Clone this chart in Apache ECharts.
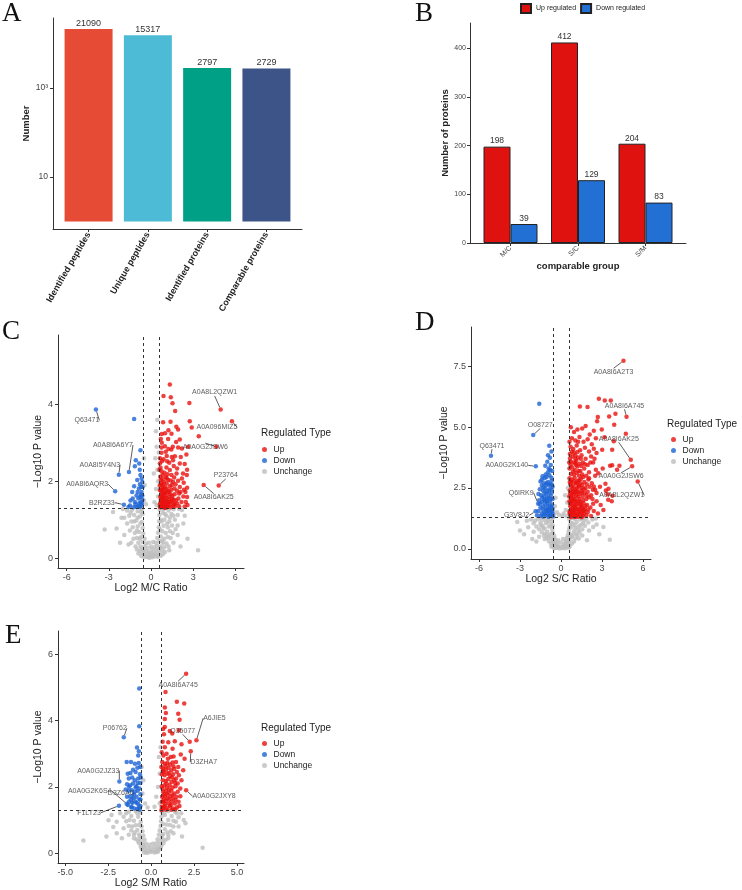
<!DOCTYPE html>
<html lang="en">
<head>
<meta charset="utf-8">
<title>Proteome overview</title>
<script src="https://cdn.jsdelivr.net/npm/echarts@6.0.0/dist/echarts.min.js"></script>
<style>
  html, body { margin: 0; padding: 0; background: #fff; }
  #main { width: 742px; height: 890px; }
</style>
</head>
<body>
<div id="main"></div>
<script>
// ---- panel A: identification counts ----
var countNames = ['Identified peptides', 'Unique peptides', 'Identified proteins', 'Comparable proteins'];
var countValues = [21090, 15317, 2797, 2729];

// ---- panel B: regulated proteins per comparison ----
var groups = ['M/C', 'S/C', 'S/M'];
var upCounts = [198, 412, 204];
var downCounts = [39, 129, 83];

// ---- panel C: M/C volcano (log2 ratio, -log10 p) ----
var mcUp = [
  [1.34,4.52],[0.89,4.22],[1.41,4.19],[2.73,4.04],[1.53,4.03],[1.72,3.83],[0.86,3.54],[1.39,3.55],[2.76,3.56],
  [2.90,3.40],[1.80,3.42],[1.24,3.33],[0.77,3.23],[1.00,3.25],[1.46,3.24],[1.93,3.35],[3.40,3.17],[0.77,3.00],
  [1.22,3.10],[1.79,3.02],[2.05,3.09],[0.75,2.88],[0.99,2.91],[1.24,2.84],[1.45,2.83],[1.93,2.88],[2.64,2.90],
  [0.75,2.74],[1.05,2.77],[1.48,2.63],[2.12,2.63],[2.52,2.70],[0.89,2.57],[1.15,2.52],[1.57,2.55],[2.05,2.46],
  [0.63,2.46],[2.57,2.30],[1.86,2.33],[1.10,2.36],[0.75,2.26],[1.34,2.29],[2.28,2.20],[0.82,2.16],[1.05,2.11],
  [1.46,2.16],[1.82,2.20],[2.20,2.07],[2.55,2.16],[0.70,2.03],[0.93,1.98],[1.22,2.03],[1.57,1.98],[1.93,2.01],
  [2.33,1.96],[0.75,1.90],[1.00,1.85],[1.34,1.87],[1.67,1.81],[2.05,1.85],[0.63,1.77],[2.57,1.83],[2.45,1.72],
  [2.00,1.68],[2.17,1.46],[2.48,1.46],[2.57,1.59],[1.86,1.42],
  [0.65,1.32],[0.72,1.36],[0.80,1.33],[0.88,1.38],[0.95,1.31],[1.05,1.35],[1.15,1.33],[1.28,1.37],[1.40,1.32],
  [1.55,1.36],[1.70,1.34],[2.00,1.35],[0.68,1.45],[0.78,1.48],[0.86,1.52],[0.96,1.44],[1.08,1.50],[1.20,1.46],
  [1.32,1.54],[1.45,1.48],[1.62,1.52],[1.78,1.50],[0.66,1.60],[0.74,1.65],[0.84,1.58],[0.92,1.68],[1.02,1.62],
  [1.14,1.70],[1.25,1.60],[1.38,1.66],[1.52,1.62],[1.68,1.66],[0.70,1.75],[0.80,1.80],[0.90,1.76],[1.10,1.80],
  [1.22,1.76],[1.45,1.78],[1.85,1.75],[0.62,1.88],[0.86,1.92],[1.12,1.94],[1.48,1.90],[1.75,1.92],[0.66,2.12],
  [1.18,2.18],[0.64,2.60],[0.70,3.10],[0.68,2.35],[1.62,2.40],[1.30,2.48],[1.12,2.66],[0.96,1.40],[1.25,1.42],
  [0.74,1.56],[1.60,1.42],[1.95,1.55],[2.30,1.60],[2.60,1.38],[2.40,1.34],
  [0.63,1.40],[0.70,1.52],[0.76,1.68],[0.82,1.42],[0.92,1.58],[1.02,1.48],[1.12,1.56],[1.18,1.38],[1.35,1.46],
  [1.50,1.55],[0.70,1.95],[0.82,2.05],[0.96,2.22],[1.12,2.08],[1.40,2.02],[1.65,2.10],[0.65,1.35],[1.00,1.70],
  [1.30,1.72],[1.68,1.40],[2.10,1.72],[2.35,1.78],[0.88,1.82],[0.60,2.30],[1.55,2.90],[2.20,2.85],[2.40,2.45],
  [1.05,1.31],[0.78,2.52],[1.70,2.65]
];
var mcDown = [
  [-1.20,3.62],[-0.75,2.81],[-1.08,2.55],[-0.84,2.46],[-1.15,2.39],[-0.80,2.30],[-0.75,2.16],[-0.67,2.07],
  [-0.98,2.03],[-0.79,1.92],[-1.20,1.87],[-0.86,1.81],[-1.34,1.72],[-0.67,1.72],[-1.03,1.63],[-0.75,1.59],
  [-1.46,1.50],[-1.15,1.46],[-0.84,1.43],[-0.67,1.37],[-1.50,1.37],[-1.03,1.33],[-0.79,1.33],[-0.62,1.52],
  [-0.70,1.85],[-0.90,1.55],[-1.25,1.32],[-0.65,1.42],[-0.72,1.65],[-1.60,1.33],[-0.95,1.72],[-0.62,1.98],
  [-1.10,1.40],[-0.62,1.62],[-0.72,1.45],[-0.88,1.35],[-0.60,1.85],[-1.30,1.55]
];
var mcFlat = [
  [-0.7,0.05],[-0.5,0.02],[-0.3,0.03],[-0.1,0.01],[0.1,0.02],[0.3,0.04],[0.5,0.03],[0.7,0.06],[-0.6,0.12],
  [-0.4,0.10],[-0.2,0.08],[0.0,0.06],[0.2,0.10],[0.4,0.12],[0.6,0.14],[-0.8,0.18],[-0.55,0.20],[-0.35,0.18],
  [-0.15,0.15],[0.15,0.16],[0.35,0.20],[0.55,0.22],[0.8,0.20],[-0.75,0.30],[-0.45,0.30],[-0.25,0.26],[0.25,0.28],
  [0.45,0.32],[0.7,0.30],[0.95,0.28],[-0.9,0.40],[-0.6,0.42],[-0.35,0.38],[0.35,0.40],[0.6,0.44],[0.85,0.40],
  [1.1,0.38],[-1.0,0.52],[-0.7,0.55],[-0.45,0.50],[0.45,0.52],[0.7,0.56],[0.95,0.50],[1.2,0.55],[-1.15,0.65],
  [-0.85,0.68],[-0.55,0.64],[0.5,0.66],[0.8,0.70],[1.05,0.65],[1.35,0.70],[-1.3,0.80],[-0.95,0.82],[-0.6,0.78],
  [0.55,0.80],[0.9,0.84],[1.2,0.80],[1.5,0.85],[-1.4,0.95],[-1.05,0.98],[-0.65,0.94],[0.58,0.96],[0.95,1.00],
  [1.3,0.95],[1.7,1.00],[-1.55,1.10],[-1.2,1.12],[-0.8,1.08],[-0.6,1.15],[0.6,1.12],[0.85,1.18],[1.1,1.10],
  [1.45,1.15],[1.9,1.12],[-1.7,1.24],[-1.35,1.26],[-0.95,1.22],[-0.65,1.27],[0.62,1.26],[0.9,1.28],[1.25,1.24],
  [1.6,1.27],[2.2,1.25],[-3.3,0.74],[-2.45,0.77],[-2.1,1.05],[-2.7,1.20],[-1.9,0.60],[-2.2,0.40],[1.9,0.60],
  [2.3,0.90],[2.6,0.50],[3.35,0.20],[2.1,0.30],[-1.6,0.35],[1.6,0.40],[0.45,3.60],[0.35,3.30],[0.4,2.90],
  [0.3,2.60],[0.45,2.30],[0.5,2.00],[0.35,1.80],[0.5,1.60],[0.25,1.45],[0.4,1.38],[-0.5,2.60],[-0.45,1.90],
  [-0.5,1.50],[-0.35,1.40],[0.2,2.20],[0.55,2.75],[-0.15,0.40],[0.15,0.42],[0.0,0.30],[-0.05,0.12],[0.05,0.22],
  [-0.55,0.08],[-0.2,0.02],[0.45,0.07],[0.85,0.10],[-0.9,0.12],[-0.65,0.24],[0.65,0.26],[1.0,0.16],[-1.1,0.30],
  [1.25,0.30],[-0.8,0.50],[0.8,0.45],[-1.25,0.50],[1.4,0.52],[-1.0,0.72],[0.65,0.75],[1.55,0.65],[-1.5,0.72],
  [-0.75,0.90],[0.75,0.95],[-1.2,0.95],[1.15,0.90],[1.9,0.85],[-1.7,0.90],[-0.95,1.05],[1.0,1.15],[1.6,1.10],
  [-1.45,1.18],[0.7,1.00],[-0.7,1.20],[1.35,1.05],[2.0,1.28],[-2.0,1.28],[-1.9,1.05],[2.4,1.10],[1.75,0.75],
  [-1.4,0.40],[1.3,0.20],[-1.0,0.22],[0.15,0.06]
];
var mcTags = [
  ['A0A8L2QZW1', 4.96, 3.87], ['A0A096MIZ5', 5.76, 3.56], ['A0A0G2JSW6', 4.65, 2.90], ['P23764', 4.82, 1.89],
  ['A0A8I6AK25', 3.75, 1.90], ['Q63471', -3.92, 3.87], ['A0A8I6A6Y7', -1.57, 2.24], ['A0A8I5Y4N3', -2.29, 2.17],
  ['A0A8I6AQR3', -2.55, 1.74], ['B2RZ33', -1.93, 1.39]
];
var mcTagShift = [[-6,-17],[-15,6],[-11,0],[7,-10],[10,12],[-9,11],[-16,-27],[-19,-10],[-28,-7],[-22,-2]];

// ---- panel D: S/C volcano ----
var scUp = [
  [1.38,5.85],[1.94,5.83],[2.77,6.17],[3.20,6.10],[3.64,6.10],[2.69,5.42],[2.64,5.24],[3.52,5.44],[3.98,5.55],
  [2.98,4.90],[3.89,5.10],[4.74,4.73],[3.18,4.59],[3.86,4.42],[3.01,4.07],[0.72,5.00],[0.95,4.80],[1.20,4.90],
  [1.55,4.95],[1.80,5.05],[2.10,4.70],[2.40,4.85],[0.80,4.55],[1.05,4.45],[1.35,4.60],[1.65,4.40],[1.95,4.50],
  [2.25,4.30],[2.55,4.55],[2.40,4.11],[2.60,3.94],[3.74,4.07],[0.70,4.20],[0.90,4.10],[1.15,4.25],[1.40,4.05],
  [1.75,4.15],[2.05,4.00],[3.74,3.43],[4.10,3.25],[2.55,3.25],[2.72,3.11],[4.27,3.41],[3.59,3.41],[0.65,3.90],
  [0.85,3.80],[1.05,3.85],[1.25,3.75],[1.50,3.85],[1.80,3.70],[2.20,3.80],[0.70,3.60],[0.92,3.55],[1.12,3.62],
  [1.35,3.50],[1.60,3.55],[1.95,3.45],[2.35,3.55],[0.62,3.30],[0.80,3.35],[1.00,3.25],[1.20,3.38],[1.42,3.20],
  [1.70,3.30],[2.05,3.15],[0.72,3.08],[0.95,3.05],[1.15,3.12],[1.32,3.00],[1.55,3.05],[1.85,3.00],[2.40,2.56],
  [2.50,2.43],[3.28,2.40],[3.47,2.47],[3.40,2.24],[3.76,2.18],[3.25,2.67],[2.33,2.43],[2.60,2.29],[3.45,2.02],
  [3.71,1.95],[0.62,2.90],[0.80,2.85],[1.00,2.92],[1.22,2.80],[1.45,2.88],[1.70,2.75],[2.00,2.85],[2.25,2.70],
  [0.68,2.65],[0.88,2.60],[1.08,2.68],[1.30,2.55],[1.55,2.62],[1.80,2.50],[2.10,2.55],[0.64,2.40],[0.84,2.35],
  [1.02,2.45],[1.25,2.32],[1.48,2.40],[1.72,2.28],[1.95,2.35],[2.20,2.20],[0.70,2.15],[0.92,2.10],[1.12,2.20],
  [1.35,2.05],[1.58,2.15],[1.85,2.05],[2.05,2.12],[0.62,1.95],[0.80,1.90],[1.00,1.98],[1.20,1.85],[1.42,1.92],
  [1.65,1.88],[1.90,1.80],[0.68,1.75],[0.88,1.70],[1.08,1.78],[1.28,1.65],[1.50,1.72],[1.75,1.62],[2.15,1.70],
  [0.64,1.55],[0.82,1.50],[1.02,1.58],[1.22,1.45],[1.45,1.52],[1.68,1.45],[1.95,1.50],[2.40,1.55],[0.70,1.35],
  [0.90,1.38],[1.12,1.33],[1.35,1.40],[1.60,1.35],[1.85,1.38],[2.20,1.35],[2.70,1.45],[3.10,1.60],[2.90,1.80],
  [2.60,1.95],[0.75,2.00],[0.95,2.25],[1.15,2.50],[0.75,2.75],[1.10,3.45],[0.66,1.42],[0.98,1.46],[1.18,1.62],
  [1.38,1.80],[1.62,2.00],[0.78,1.62],[1.05,2.05],[1.25,2.15],[0.85,2.48],[1.40,2.70],[1.62,2.95],[1.05,3.70],
  [0.80,4.00],
  [0.62,1.48],[0.74,1.44],[0.86,1.60],[0.94,1.52],[1.06,1.68],[1.16,1.40],[1.30,1.52],[1.40,1.62],[1.52,1.44],
  [1.62,1.58],[0.66,1.85],[0.74,1.95],[0.90,1.82],[0.98,1.76],[1.10,1.92],[1.28,1.95],[1.48,1.82],[1.58,1.70],
  [1.78,1.75],[2.00,1.62],[0.66,2.28],[0.78,2.22],[0.90,2.35],[1.06,2.32],[1.18,2.38],[1.38,2.25],[1.55,2.30],
  [1.68,2.45],[1.88,2.20],[2.30,2.05],[0.64,2.75],[0.76,2.55],[0.96,2.78],[1.14,2.72],[1.34,2.82],[1.52,2.50],
  [1.88,2.65],[0.70,3.45],[0.88,3.18],[1.05,3.52],[1.28,3.20],[1.48,3.40],[1.75,3.48],[0.66,3.72],[0.95,3.95],
  [1.20,3.98],[1.45,3.70],[0.62,4.40],[1.25,4.40],[2.15,3.55],[0.72,1.30],[1.00,1.31],[1.25,1.32],[1.50,1.30],
  [1.70,1.55],[0.84,2.05],[1.30,2.60],[0.60,2.15],[0.60,3.55],[2.50,3.00],[2.85,2.55],[3.05,3.30],[2.45,3.70],
  [2.05,2.90],[2.35,1.85]
];
var scDown = [
  [-1.59,5.96],[-0.86,4.24],[-0.81,3.74],[-1.00,3.58],[-1.15,3.41],[-0.90,3.30],[-0.75,3.45],[-0.65,3.20],
  [-1.35,2.98],[-1.50,2.77],[-1.20,2.90],[-1.05,2.95],[-0.85,3.02],[-0.70,2.92],[-1.40,2.60],[-1.25,2.70],
  [-1.10,2.62],[-0.95,2.75],[-0.78,2.65],[-0.62,2.55],[-1.55,2.45],[-1.32,2.40],[-1.15,2.48],[-1.00,2.38],
  [-0.85,2.45],[-0.68,2.30],[-1.45,2.20],[-1.25,2.15],[-1.08,2.25],[-0.92,2.12],[-0.75,2.18],[-0.62,2.05],
  [-1.60,2.00],[-1.38,1.92],[-1.18,1.98],[-1.00,1.88],[-0.82,1.95],[-0.66,1.82],[-1.50,1.70],[-1.30,1.75],
  [-1.12,1.65],[-0.95,1.72],[-0.78,1.60],[-0.63,1.55],[-1.40,1.45],[-1.22,1.50],[-1.05,1.40],[-0.88,1.48],
  [-0.72,1.38],[-0.60,1.34],[-1.65,1.55],[-1.75,1.38],[-1.28,1.33],[-0.98,1.55],[-0.80,1.35],[-1.15,1.82],
  [-0.70,2.45],[-0.88,2.62],[-1.20,2.30],[-1.02,2.08],
  [-0.62,1.45],[-0.70,1.72],[-0.82,1.78],[-0.92,1.32],[-1.08,1.58],[-1.18,1.42],[-1.35,1.62],[-1.48,1.35],
  [-0.66,2.62],[-0.74,2.05],[-0.90,2.30],[-1.05,2.70],[-1.28,2.52],[-1.40,2.85],[-0.95,3.15],[-1.12,3.05],
  [-0.62,1.65],[-0.78,1.48],[-1.55,1.85],[-1.65,2.25],[-0.86,1.62],[-1.02,1.95],[-1.22,2.02],[-1.38,2.10],
  [-0.68,2.80],[-0.80,3.25],[-0.95,3.85],[-0.70,4.00]
];
var scFlat = [
  [-0.5,0.02],[-0.3,0.04],[-0.1,0.01],[0.1,0.03],[0.3,0.02],[0.5,0.05],[-0.6,0.12],[-0.4,0.10],[-0.2,0.08],
  [0.0,0.07],[0.2,0.10],[0.4,0.12],[0.65,0.14],[-0.75,0.22],[-0.5,0.20],[-0.25,0.20],[0.25,0.22],[0.5,0.24],
  [0.8,0.22],[-0.9,0.32],[-0.6,0.32],[-0.35,0.30],[0.35,0.32],[0.62,0.34],[0.95,0.30],[-1.05,0.44],[-0.75,0.45],
  [-0.45,0.42],[0.42,0.44],[0.72,0.46],[1.05,0.42],[-1.25,0.55],[-0.9,0.56],[-0.5,0.55],[0.5,0.56],[0.85,0.58],
  [1.2,0.55],[-1.4,0.68],[-1.0,0.70],[-0.6,0.66],[0.55,0.70],[0.95,0.72],[1.35,0.68],[-1.6,0.80],[-1.2,0.82],
  [-0.65,0.80],[0.6,0.82],[1.05,0.85],[1.55,0.80],[-1.8,0.92],[-1.35,0.95],[-0.9,0.92],[-0.6,0.96],[0.65,0.95],
  [1.0,0.98],[1.3,0.92],[1.75,0.95],[-2.0,1.05],[-1.5,1.08],[-1.1,1.06],[-0.7,1.10],[0.7,1.08],[1.15,1.10],
  [1.6,1.05],[2.0,1.08],[-2.2,1.20],[-1.7,1.22],[-1.25,1.18],[-0.8,1.24],[-0.6,1.27],[0.6,1.22],[0.9,1.26],
  [1.4,1.20],[1.85,1.24],[2.3,1.20],[-2.4,0.89],[-2.7,0.60],[-3.2,1.10],[-2.1,0.40],[2.35,0.90],[2.8,0.60],
  [3.57,0.37],[2.6,1.00],[-1.8,0.30],[1.9,0.35],[-3.0,0.75],[3.1,0.90],[0.2,1.45],[0.35,1.60],[0.45,1.90],
  [0.3,2.20],[0.5,2.50],[-0.3,1.50],[-0.45,1.75],[0.1,1.35],[-0.15,1.40],[0.4,1.35],[-0.5,1.40],[-0.4,2.10],
  [-0.2,0.35],[0.15,0.40],[0.0,0.25],
  [-0.45,0.06],[-0.25,0.05],[0.15,0.05],[0.35,0.08],[0.6,0.06],[-0.7,0.08],[-0.55,0.28],[0.45,0.28],[0.3,0.16],
  [-0.35,0.15],[-0.95,0.50],[-1.15,0.62],[0.8,0.50],[1.1,0.62],[-1.3,0.85],[1.25,0.78],[-1.5,0.98],[1.45,0.98],
  [-1.9,1.15],[1.7,1.15],[-0.7,0.62],[0.65,0.60],[-0.75,0.95],[0.75,0.90],[-1.0,1.20],[1.05,1.22],[-1.45,1.25],
  [1.6,1.27],[-2.5,1.15],[2.55,1.25],[-2.0,0.70],[2.05,0.75],[-1.6,0.50],[1.55,0.55],[0.85,1.05],[-0.95,1.10],
  [-1.2,0.40],[1.3,0.42],[-0.55,0.42],[0.55,0.45]
];
var scTags = [
  ['A0A8I6A2T3', 4.57, 7.73], ['A0A8I6A745', 4.79, 5.43], ['A0A8I6AK25', 5.10, 3.66], ['A0A0G2JSW6', 5.20, 3.39],
  ['A0A8L2QZW1', 5.61, 2.77], ['O08727', -2.03, 4.68], ['Q63471', -5.12, 3.83], ['A0A0G2K140', -1.84, 3.39],
  ['Q6IRK9', -1.67, 1.85], ['G3V8J2', -1.86, 1.54]
];
var scTagShift = [[-10,11],[-2,-11],[-12,-21],[-11,10],[-16,14],[7,-10],[1,-10],[-29,-1],[-17,-11],[-19,4]];

// ---- panel E: S/M volcano ----
var smUp = [
  [0.84,4.87],[1.50,4.57],[1.93,4.52],[0.80,4.40],[0.86,4.23],[1.58,4.21],[0.80,4.05],[1.66,4.03],[0.80,3.81],
  [1.09,3.69],[1.23,3.61],[1.62,3.71],[0.75,3.59],[0.67,3.36],[1.38,3.38],[1.77,3.29],[0.80,3.20],[1.31,2.92],
  [1.73,2.98],[0.62,3.05],[1.58,2.60],[1.87,2.50],[1.77,2.20],[1.95,2.85],[1.45,2.75],[0.65,2.75],[0.80,2.70],
  [0.95,2.72],[1.10,2.68],[1.25,2.74],[0.70,2.55],[0.88,2.52],[1.02,2.58],[1.18,2.50],[1.35,2.55],[1.50,2.45],
  [0.62,2.38],[0.78,2.35],[0.95,2.40],[1.12,2.32],[1.28,2.38],[1.45,2.25],[1.62,2.35],[0.68,2.20],[0.85,2.18],
  [1.00,2.24],[1.18,2.15],[1.35,2.20],[1.55,2.10],[0.62,2.02],[0.78,2.05],[0.92,1.98],[1.08,2.05],[1.25,1.98],
  [1.42,2.02],[1.70,1.95],[0.70,1.85],[0.86,1.88],[1.02,1.82],[1.18,1.88],[1.35,1.80],[1.55,1.85],[0.64,1.70],
  [0.80,1.72],[0.96,1.66],[1.12,1.72],[1.28,1.65],[1.48,1.70],[0.70,1.55],[0.86,1.58],[1.02,1.50],[1.20,1.56],
  [1.38,1.50],[1.60,1.55],[0.62,1.40],[0.78,1.42],[0.94,1.36],[1.10,1.42],[1.28,1.35],[1.50,1.38],[0.68,1.32],
  [0.88,1.31],[1.18,1.31],[0.72,2.95],[0.90,3.00],[0.74,2.45],[1.15,2.90],
  [0.62,1.55],[0.74,1.62],[0.82,1.48],[0.92,1.78],[1.05,1.62],[1.15,1.45],[1.25,1.75],[1.42,1.60],[0.66,1.95],
  [0.76,1.78],[0.90,2.10],[1.05,1.92],[1.22,2.28],[1.40,2.12],[0.68,2.48],[0.85,2.62],[1.05,2.42],[1.30,2.62],
  [0.60,1.30],[0.72,1.38],[1.40,1.32],[1.65,1.42],[1.70,1.72],[0.98,2.85],[1.25,3.15],[0.60,2.60],[0.70,3.75],
  [1.00,3.35]
];
var smDown = [
  [-0.69,4.97],[-0.69,3.83],[-0.82,3.19],[-0.71,3.08],[-0.75,2.95],[-1.42,2.75],[-1.17,2.75],[-0.94,2.70],
  [-0.63,2.60],[-0.80,2.58],[-1.05,2.52],[-1.36,2.40],[-1.20,2.42],[-0.90,2.45],[-0.65,2.38],[-1.30,2.25],
  [-1.10,2.28],[-0.95,2.20],[-0.75,2.25],[-0.62,2.12],[-1.40,2.08],[-1.22,2.05],[-1.05,2.10],[-0.85,2.02],
  [-0.68,1.95],[-1.30,1.88],[-1.12,1.90],[-0.95,1.85],[-0.78,1.88],[-0.62,1.78],[-1.40,1.70],[-1.20,1.72],
  [-1.02,1.66],[-0.85,1.70],[-0.68,1.62],[-1.28,1.55],[-1.10,1.52],[-0.92,1.56],[-0.75,1.48],[-0.62,1.42],
  [-1.15,1.38],[-0.98,1.35],[-0.80,1.33],[-0.66,1.31],
  [-0.62,1.62],[-0.72,1.38],[-0.86,1.52],[-1.00,1.78],[-1.18,1.62],[-0.78,2.12],[-0.90,1.98],[-1.28,2.00],
  [-0.60,2.28],[-0.72,2.72],[-1.35,1.45],[-1.48,1.92]
];
var smFlat = [
  [-0.4,0.02],[-0.2,0.01],[0.0,0.03],[0.2,0.02],[0.4,0.04],[-0.5,0.10],[-0.3,0.08],[-0.1,0.06],[0.1,0.08],
  [0.3,0.10],[0.5,0.12],[-0.6,0.20],[-0.4,0.18],[-0.2,0.16],[0.2,0.18],[0.4,0.20],[0.6,0.22],[-0.7,0.30],
  [-0.5,0.30],[-0.3,0.28],[0.3,0.30],[0.5,0.32],[0.72,0.30],[-0.85,0.42],[-0.6,0.42],[-0.38,0.40],[0.38,0.42],
  [0.6,0.44],[0.85,0.40],[-1.0,0.55],[-0.7,0.56],[-0.45,0.52],[0.45,0.55],[0.7,0.58],[1.0,0.54],[-1.15,0.68],
  [-0.8,0.70],[-0.5,0.66],[0.5,0.68],[0.8,0.72],[1.15,0.66],[-1.3,0.82],[-0.9,0.84],[-0.55,0.80],[0.55,0.82],
  [0.9,0.86],[1.3,0.80],[-1.45,0.96],[-1.0,0.98],[-0.6,0.95],[0.58,0.96],[1.0,1.00],[1.45,0.95],[-1.6,1.10],
  [-1.15,1.12],[-0.75,1.10],[0.6,1.10],[0.8,1.15],[1.2,1.12],[1.6,1.08],[-1.3,1.25],[-0.9,1.27],[-0.62,1.22],
  [0.62,1.25],[1.0,1.27],[1.4,1.24],[-3.94,0.38],[3.0,0.16],[-2.48,0.99],[-2.2,0.79],[-2.0,0.60],[-1.8,1.20],
  [-2.3,1.15],[-1.7,0.45],[1.8,0.50],[2.0,0.90],[1.75,1.20],[-2.6,0.50],[0.45,2.90],[0.5,2.40],[0.4,2.00],
  [0.3,1.70],[0.5,1.50],[-0.45,2.20],[-0.5,1.80],[-0.35,1.50],[0.2,1.40],[-0.2,1.38],[0.55,3.20],[-0.55,2.60],
  [0.0,0.15],[-0.1,0.25],[0.1,0.28],
  [-0.3,0.02],[0.3,0.03],[-0.55,0.14],[0.55,0.16],[-0.75,0.36],[0.7,0.38],[-0.95,0.62],[0.95,0.62],[-1.1,0.80],
  [1.1,0.85],[-1.25,1.00],[1.3,0.98],[-1.45,1.20],[1.5,1.20],[-0.8,1.20],[0.75,1.20],[-1.0,0.45],[1.0,0.45],
  [-0.65,0.50],[0.65,0.52],[-0.7,0.85],[0.7,0.88],[-1.6,0.75],[1.6,0.80],[-2.0,0.95],[1.9,1.00],[-1.3,0.55],
  [1.3,0.60],[0.4,0.10],[-0.45,0.22]
];
var smTags = [
  ['A0A8I6A745', 2.04, 5.42], ['A6JIE5', 2.64, 3.41], ['O35077', 2.25, 3.36], ['D3ZHA7', 2.31, 3.08],
  ['A0A0G2JXY8', 2.04, 1.90], ['P06762', -1.59, 3.50], ['A0A0G2JZ33', -1.85, 2.16], ['A0A0G2K6S4', -1.42, 1.49],
  ['D3Z6A0', -1.13, 1.39], ['F1LT23', -1.87, 1.43]
];
var smTagShift = [[-8,11],[18,-22],[-7,-11],[13,11],[28,6],[-9,-9],[-21,-11],[-37,-13],[-11,-14],[-30,7]];

// cut-offs: 1.5 fold, p = 0.05
var fcCut = Math.log2(1.5);
var pCut = -Math.log10(0.05);

var font = 'Liberation Sans';
var ink = '#222';
var barColors = ['#E64B35', '#4DBBD5', '#00A087', '#3C5488'];
var upColor = '#E8120F', downColor = '#1D64D4', flatColor = '#BEBEBE';

function axisLine() { return { color: '#333', width: 1 }; }

function valueAxis(o) {
  return {
    type: 'value', gridIndex: o.grid, min: o.min, max: o.max,
    name: o.name || '', nameLocation: 'middle', nameGap: o.nameGap || 0,
    nameTextStyle: { fontSize: o.nameSize || 10.5, fontWeight: o.nameWeight || 'normal', color: ink, fontFamily: font },
    axisLine: { show: true, onZero: false, lineStyle: axisLine() },
    axisTick: { show: true, length: 3, customValues: o.ticks, lineStyle: axisLine() },
    axisLabel: {
      customValues: o.ticks, formatter: o.fmt, fontSize: o.labelSize || 9, color: o.labelColor || '#444',
      margin: o.margin || 5, rotate: o.rotate || 0, fontWeight: o.labelWeight || 'normal', fontFamily: font
    },
    splitLine: { show: false }
  };
}

function dots(name, pts, color, g) {
  return {
    type: 'scatter', name: name, xAxisIndex: g, yAxisIndex: g, data: pts,
    symbolSize: 4.5, itemStyle: { color: color }, silent: true
  };
}

function tagged(tags, shift, g) {
  return {
    type: 'scatter', name: 'tags' + g, xAxisIndex: g, yAxisIndex: g, symbolSize: 4.5, silent: true,
    data: tags.map(function (t) {
      return { name: t[0], value: [t[1], t[2]], itemStyle: { color: t[1] > 0 ? upColor : downColor } };
    }),
    label: { show: true, position: 'inside', formatter: '{b}', fontSize: 7, color: '#333', fontFamily: font },
    labelLayout: function (p) { var s = shift[p.dataIndex]; return { dx: s[0], dy: s[1] }; },
    labelLine: { show: true, lineStyle: { color: '#333', width: 0.8 } },
    markLine: {
      silent: true, symbol: ['none', 'none'], label: { show: false },
      lineStyle: { type: [3, 3], color: '#333', width: 1 },
      data: [{ xAxis: -fcCut }, { xAxis: fcCut }, { yAxis: pCut }]
    }
  };
}

function volcanoLegend(left, top) {
  return {
    data: ['Up', 'Down', 'Unchange'], orient: 'vertical', left: left, top: top, padding: 0,
    icon: 'circle', itemWidth: 8, itemHeight: 5, itemGap: 0, selectedMode: false,
    textStyle: { fontSize: 8.5, color: ink, lineHeight: 11, fontFamily: font }
  };
}

function letter(t, left, top) {
  return { text: t, left: left, top: top, padding: 0,
    textStyle: { fontFamily: 'Liberation Serif', fontSize: 27, fontWeight: 'normal', color: '#111' } };
}

function typeTitle(left, top) {
  return { text: 'Regulated Type', left: left, top: top, padding: 0,
    textStyle: { fontFamily: font, fontSize: 10, fontWeight: 'normal', color: ink, lineHeight: 12 } };
}

var fmt1 = function (v) { return v.toFixed(1); };

var option = {
  animation: false,
  textStyle: { fontFamily: font },
  title: [
    letter('A', 2, 0), letter('B', 415, 0), letter('C', 2, 318), letter('D', 415, 309), letter('E', 5, 622),
    typeTitle(261, 427), typeTitle(667, 418), typeTitle(261, 722)
  ],
  legend: [
    {
      data: ['Up regulated', 'Down regulated'], left: 520, top: 3, padding: 0, icon: 'rect',
      itemWidth: 10, itemHeight: 9, itemGap: 4, selectedMode: false,
      textStyle: { fontSize: 7, color: ink, fontFamily: font }
    },
    volcanoLegend(262, 444), volcanoLegend(671, 434), volcanoLegend(262, 738)
  ],
  grid: [
    { left: 53, top: 18, width: 249, height: 211 },
    { left: 470, top: 23, width: 216, height: 220 },
    { left: 58, top: 335, width: 186, height: 233 },
    { left: 471, top: 327, width: 180, height: 232 },
    { left: 58, top: 631, width: 186, height: 232 }
  ],
  xAxis: [
    valueAxis({ grid: 0, min: 0.4, max: 4.6, ticks: [1, 2, 3, 4], rotate: 60, labelSize: 9, labelWeight: 'bold',
      labelColor: ink, margin: 4, fmt: function (v) { return countNames[Math.round(v) - 1]; } }),
    valueAxis({ grid: 1, min: 0.4, max: 3.6, ticks: [1, 2, 3], rotate: 45, labelSize: 7, margin: 4,
      name: 'comparable group', nameGap: 17, nameSize: 9.5, nameWeight: 'bold',
      fmt: function (v) { return groups[Math.round(v) - 1]; } }),
    valueAxis({ grid: 2, min: -6.62, max: 6.62, ticks: [-6, -3, 0, 3, 6], name: 'Log2 M/C Ratio', nameGap: 15 }),
    valueAxis({ grid: 3, min: -6.58, max: 6.58, ticks: [-6, -3, 0, 3, 6], name: 'Log2 S/C Ratio', nameGap: 13 }),
    valueAxis({ grid: 4, min: -5.42, max: 5.41, ticks: [-5, -2.5, 0, 2.5, 5], name: 'Log2 S/M Ratio', nameGap: 15, fmt: fmt1 })
  ],
  yAxis: [
    valueAxis({ grid: 0, min: -0.17, max: 4.57, ticks: [1, 3], labelSize: 8.5, name: 'Number', nameGap: 20,
      nameSize: 9.5, nameWeight: 'bold', fmt: function (v) { return Math.round(v) === 1 ? '10' : '10³'; } }),
    valueAxis({ grid: 1, min: 0, max: 452, ticks: [0, 100, 200, 300, 400], labelSize: 7, margin: 4,
      name: 'Number of proteins', nameGap: 16, nameSize: 9.5, nameWeight: 'bold' }),
    valueAxis({ grid: 2, min: -0.26, max: 5.81, ticks: [0, 2, 4], name: '−Log10 P value', nameGap: 9 }),
    valueAxis({ grid: 3, min: -0.42, max: 9.12, ticks: [0, 2.5, 5, 7.5], name: '−Log10 P value', nameGap: 19, fmt: fmt1 }),
    valueAxis({ grid: 4, min: -0.30, max: 6.71, ticks: [0, 2, 4, 6], name: '−Log10 P value', nameGap: 12 })
  ],
  series: [
    {
      type: 'bar', name: 'counts', xAxisIndex: 0, yAxisIndex: 0, barWidth: 48,
      data: countValues.map(function (v, i) {
        return { value: [i + 1, Math.log10(v)], itemStyle: { color: barColors[i] } };
      }),
      label: { show: true, position: 'top', distance: 1, fontSize: 9, color: '#333',
        formatter: function (p) { return countValues[p.dataIndex]; } }
    },
    {
      type: 'bar', name: 'Up regulated', xAxisIndex: 1, yAxisIndex: 1, barWidth: 27, barGap: '0%',
      data: upCounts.map(function (v, i) { return [i + 1, v]; }),
      itemStyle: { color: '#E0120F', borderColor: '#222', borderWidth: 1 },
      label: { show: true, position: 'top', distance: 1, fontSize: 8.5, color: '#333',
        formatter: function (p) { return p.value[1]; } }
    },
    {
      type: 'bar', name: 'Down regulated', xAxisIndex: 1, yAxisIndex: 1, barWidth: 27, barGap: '0%',
      data: downCounts.map(function (v, i) { return [i + 1, v]; }),
      itemStyle: { color: '#2370D5', borderColor: '#222', borderWidth: 1 },
      label: { show: true, position: 'top', distance: 1, fontSize: 8.5, color: '#333',
        formatter: function (p) { return p.value[1]; } }
    },
    dots('Unchange', mcFlat, flatColor, 2), dots('Up', mcUp, upColor, 2), dots('Down', mcDown, downColor, 2),
    tagged(mcTags, mcTagShift, 2),
    dots('Unchange', scFlat, flatColor, 3), dots('Up', scUp, upColor, 3), dots('Down', scDown, downColor, 3),
    tagged(scTags, scTagShift, 3),
    dots('Unchange', smFlat, flatColor, 4), dots('Up', smUp, upColor, 4), dots('Down', smDown, downColor, 4),
    tagged(smTags, smTagShift, 4)
  ]
};

var chart = echarts.init(document.getElementById('main'));
chart.setOption(option);
</script>
</body>
</html>
